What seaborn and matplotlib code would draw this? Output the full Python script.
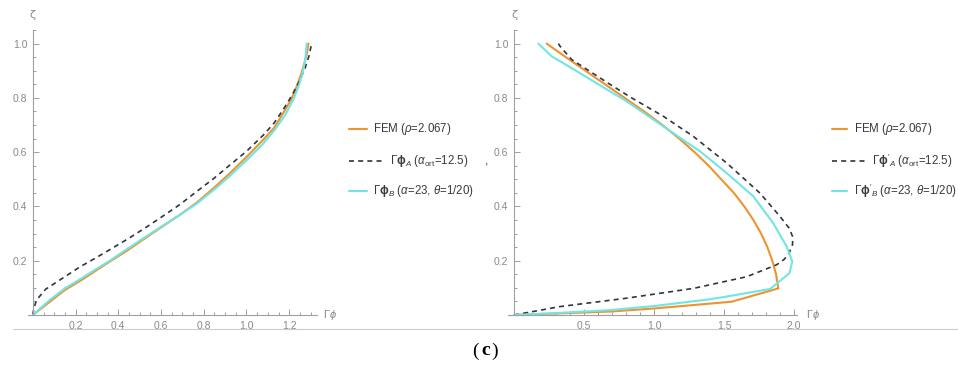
import numpy as np
import pandas as pd
import matplotlib
matplotlib.use("Agg")
import matplotlib.pyplot as plt
import seaborn as sns
from matplotlib.lines import Line2D
from matplotlib.ticker import MultipleLocator, FixedLocator, FormatStrFormatter

# ---------------- data ----------------
# left panel: Gamma*phi (x) vs zeta (z)
left_fem_x = [0, 0.08, 0.15, 0.236, 0.3, 0.36, 0.439, 0.52, 0.61, 0.69, 0.767, 0.85, 0.923,
              1.0, 1.079, 1.13, 1.172, 1.21, 1.235, 1.255, 1.27, 1.282, 1.29]
left_fem_z = [0, 0.049, 0.092, 0.133, 0.166, 0.197, 0.236, 0.28, 0.328, 0.37, 0.414, 0.47, 0.523,
              0.582, 0.646, 0.69, 0.744, 0.795, 0.842, 0.885, 0.925, 0.96, 1.0]

left_a_x = [0, 0.005, 0.017, 0.06, 0.142, 0.22, 0.298, 0.376, 0.454, 0.53, 0.61, 0.69, 0.767,
            0.85, 0.923, 1.0, 1.079, 1.13, 1.172, 1.215, 1.25, 1.275, 1.292, 1.305]
left_a_z = [0, 0.025, 0.055, 0.095, 0.137, 0.177, 0.212, 0.248, 0.285, 0.323, 0.365, 0.408, 0.455,
            0.505, 0.553, 0.603, 0.663, 0.708, 0.757, 0.812, 0.865, 0.912, 0.953, 1.0]

left_b_x = [0, 0.08, 0.15, 0.236, 0.3, 0.36, 0.439, 0.52, 0.61, 0.69, 0.767, 0.85, 0.923,
            1.0, 1.079, 1.13, 1.18, 1.22, 1.245, 1.262, 1.275, 1.282]
left_b_z = [0, 0.056, 0.098, 0.139, 0.171, 0.2, 0.242, 0.284, 0.33, 0.37, 0.41, 0.463, 0.513,
            0.57, 0.632, 0.68, 0.735, 0.795, 0.845, 0.89, 0.94, 1.0]

# right panel: Gamma*phi' (x) vs zeta (z)
right_fem_z = [0, 0.006, 0.013, 0.024, 0.042, 0.049, 0.098, 0.15, 0.2, 0.25, 0.3, 0.35,
               0.4, 0.45, 0.5, 0.55, 0.6, 0.65, 0.7, 0.75, 0.8, 0.85, 0.9, 0.95, 1.0]
right_fem_x = [0, 0.329, 0.7, 1.0, 1.4, 1.555, 1.888, 1.872, 1.845, 1.81, 1.765, 1.71,
               1.645, 1.57, 1.48, 1.39, 1.29, 1.18, 1.06, 0.93, 0.79, 0.65, 0.51, 0.37, 0.233]

right_a_z = [0, 0.031, 0.062, 0.098, 0.141, 0.185, 0.205, 0.228, 0.26, 0.289, 0.32, 0.363,
             0.449, 0.56, 0.658, 0.732, 0.8, 0.85, 0.9, 0.941, 0.99, 1.0]
right_a_x = [0, 0.329, 0.805, 1.281, 1.662, 1.876, 1.93, 1.965, 1.99, 1.99, 1.965, 1.9,
             1.757, 1.519, 1.281, 1.067, 0.84, 0.685, 0.535, 0.412, 0.329, 0.317]

right_b_z = [0, 0.008, 0.018, 0.033, 0.058, 0.068, 0.096, 0.154, 0.197, 0.252, 0.338, 0.437,
             0.523, 0.603, 0.67, 0.787, 0.861, 0.935, 0.953, 1.0]
right_b_x = [0, 0.329, 0.686, 1.0, 1.4, 1.519, 1.83, 1.967, 1.988, 1.948, 1.852, 1.71,
             1.519, 1.329, 1.138, 0.805, 0.567, 0.329, 0.269, 0.174]

left_xticks = [0.2, 0.4, 0.6, 0.8, 1.0, 1.2]
right_xticks = [0.5, 1.0, 1.5, 2.0]
yticks = [0.2, 0.4, 0.6, 0.8, 1.0]

left_labels = [r"FEM ($\rho$=2.067)",
               r"$\Gamma\mathbf{\phi}_{A}$ ($\alpha_{\rm ort}$=12.5)",
               r"$\Gamma\mathbf{\phi}_{B}$ ($\alpha$=23, $\theta$=1/20)"]
right_labels = [r"FEM ($\rho$=2.067)",
                r"$\Gamma\mathbf{\phi}'_{A}$ ($\alpha_{\rm ort}$=12.5)",
                r"$\Gamma\mathbf{\phi}'_{B}$ ($\alpha$=23, $\theta$=1/20)"]

# ---------------- style ----------------
sns.set_theme(style="white")
plt.rcParams["font.family"] = ["Liberation Sans", "DejaVu Sans"]
plt.rcParams["mathtext.fontset"] = "custom"
plt.rcParams["mathtext.rm"] = "Liberation Sans"
plt.rcParams["mathtext.it"] = "Liberation Sans:italic"
plt.rcParams["mathtext.bf"] = "Liberation Sans:bold"

ORANGE = "#EE9330"
CYAN = "#6FE6E4"
DASH = "#2E3640"
AXC = "#A0A0A0"
TXC = "#8A8A8A"

W, H = 958, 365
fig = plt.figure(figsize=(W / 100, H / 100), dpi=100)

def px_axes(x0, x1, y_bottom, y_top):
    return fig.add_axes([x0 / W, (H - y_bottom) / H, (x1 - x0) / W, (y_bottom - y_top) / H])

axL = px_axes(27.5, 317, 315, 30)
axR = px_axes(508.4, 796.8, 315, 30)

def draw(ax, fx, fz, ax_, az, bx, bz):
    sns.lineplot(x=fx, y=fz, sort=False, estimator=None, ax=ax, color=ORANGE, lw=1.5)
    sns.lineplot(x=ax_, y=az, sort=False, estimator=None, ax=ax, color=DASH, lw=1.2,
                 linestyle=(0, (3, 2.5)))
    sns.lineplot(x=bx, y=bz, sort=False, estimator=None, ax=ax, color=CYAN, lw=1.5)

draw(axL, left_fem_x, left_fem_z, left_a_x, left_a_z, left_b_x, left_b_z)
draw(axR, right_fem_x, right_fem_z, right_a_x, right_a_z, right_b_x, right_b_z)

def style_axes(ax, xlim, xticks, xminor, xlab_x):
    ax.set_xlim(*xlim)
    ax.set_ylim(0, 1.05)
    for s in ["top", "right"]:
        ax.spines[s].set_visible(False)
    ax.spines["left"].set_position(("data", 0))
    for s in ["left", "bottom"]:
        ax.spines[s].set_color(AXC)
        ax.spines[s].set_linewidth(0.8)
    ax.xaxis.set_major_locator(FixedLocator(xticks))
    ax.xaxis.set_minor_locator(MultipleLocator(xminor))
    ax.yaxis.set_major_locator(FixedLocator(yticks))
    ax.yaxis.set_minor_locator(MultipleLocator(0.05))
    ax.xaxis.set_major_formatter(FormatStrFormatter("%.1f"))
    ax.yaxis.set_major_formatter(FormatStrFormatter("%.1f"))
    ax.tick_params(which="both", direction="in", color=AXC, width=0.7,
                   labelcolor=TXC, labelsize=7.5, bottom=True, left=True)
    ax.tick_params(which="major", length=4, pad=4)
    ax.tick_params(which="minor", length=2)
    ax.set_xlabel("")
    ax.set_ylabel("")
    ax.grid(False)
    ax.patch.set_alpha(0)
    ax.text(0, 1.107, "ζ", color=TXC, fontsize=8, ha="center", va="center",
            transform=ax.transData, clip_on=False, family=["DejaVu Sans"])
    ax.text(xlab_x, 0, r"$\Gamma\phi$", color=TXC, fontsize=8, ha="left", va="center",
            transform=ax.transData, clip_on=False)

style_axes(axL, (-0.025, 1.33), left_xticks, 0.05, 1.36)
style_axes(axR, (-0.04, 2.02), right_xticks, 0.1, 2.085)

# ---------------- legends (figure pixel coords) ----------------
def legend(x0, solid_end, dash_end, text_solid, text_dash, rows, labels):
    styles = [(ORANGE, "-", solid_end, text_solid),
              (DASH, (0, (3, 2.5)), dash_end, text_dash),
              (CYAN, "-", solid_end, text_solid)]
    for (c, ls, xe, xt), y, lab in zip(styles, rows, labels):
        yf = (H - y) / H
        fig.add_artist(Line2D([x0 / W, xe / W], [yf, yf], color=c,
                              lw=1.5 if ls == "-" else 1.2, linestyle=ls))
        fig.text(xt / W, yf, lab, color="#3A3A3A", fontsize=8.3, ha="left", va="center")

legend(349.3, 366.7, 381.7, 372.7, 390, [129.3, 161, 190.7], left_labels)
legend(831.7, 846.7, 867.3, 854, 871.7, [129.3, 161, 191], right_labels)

fig.text(486.5 / W, (H - 162) / H, ",", color="#3A3A3A", fontsize=9, ha="center", va="center")

# separator line and caption
fig.add_artist(Line2D([13 / W, 1.0], [(H - 329.3) / H] * 2, color="#CCCCCC", lw=0.8))
cy = (H - 351.5) / H
fig.text(475.5 / W, cy, "(", fontsize=14, family=["Liberation Serif"], ha="center", va="center", color="black")
fig.text(485.5 / W, cy + 0.004, "c", fontsize=14, family=["Liberation Serif"], weight="bold",
         ha="center", va="center", color="black")
fig.text(495 / W, cy, ")", fontsize=14, family=["Liberation Serif"], ha="center", va="center", color="black")

fig.savefig("out.png", dpi=100, facecolor="white")
